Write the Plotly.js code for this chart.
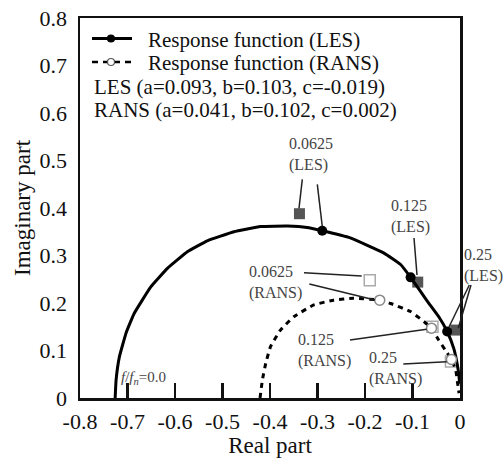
<!DOCTYPE html>
<html>
<head>
<meta charset="utf-8">
<script src="https://cdn.plot.ly/plotly-3.0.1.min.js"></script>
<style>html,body{margin:0;padding:0;background:#fff;}#chart{width:504px;height:458px;}</style>
</head>
<body>
<div id="chart"></div>
<script>
// ---- data ----
var lesRe = [-0.726, -0.724, -0.717, -0.703, -0.686, -0.651, -0.616, -0.574, -0.532, -0.476, -0.420, -0.363, -0.322, -0.290, -0.231, -0.160, -0.125, -0.104, -0.069, -0.044, -0.027, -0.013, -0.006, -0.002, -0.001];
var lesIm = [0.000, 0.038, 0.087, 0.137, 0.178, 0.234, 0.273, 0.308, 0.331, 0.350, 0.361, 0.362, 0.359, 0.352, 0.337, 0.305, 0.281, 0.254, 0.204, 0.170, 0.140, 0.104, 0.072, 0.045, 0.030];
var ransRe = [-0.421, -0.416, -0.409, -0.399, -0.378, -0.350, -0.308, -0.266, -0.224, -0.169, -0.146, -0.104, -0.076, -0.060, -0.045, -0.031, -0.018, -0.009, -0.005, -0.002];
var ransIm = [0.000, 0.038, 0.073, 0.108, 0.143, 0.171, 0.196, 0.206, 0.210, 0.206, 0.199, 0.182, 0.161, 0.147, 0.122, 0.101, 0.081, 0.059, 0.031, 0.010];
var freqLabels = ['0.0625', '0.125', '0.25'];
var lesMarkRe = [-0.290, -0.104, -0.027];
var lesMarkIm = [0.352, 0.254, 0.140];
var ransMarkRe = [-0.169, -0.060, -0.018];
var ransMarkIm = [0.206, 0.147, 0.081];
var lesSqRe = [-0.338, -0.089, -0.009];
var lesSqIm = [0.388, 0.244, 0.143];
var ransSqRe = [-0.190, -0.058, -0.019];
var ransSqIm = [0.248, 0.150, 0.077];
var xTickVals = [-0.8, -0.7, -0.6, -0.5, -0.4, -0.3, -0.2, -0.1, 0];
var xTickText = ['-0.8', '-0.7', '-0.6', '-0.5', '-0.4', '-0.3', '-0.2', '-0.1', '0'];
var yTickVals = [0, 0.1, 0.2, 0.3, 0.4, 0.5, 0.6, 0.7, 0.8];
var yTickText = ['0', '0.1', '0.2', '0.3', '0.4', '0.5', '0.6', '0.7', '0.8'];
var legendNames = ['Response function (LES)', 'Response function (RANS)'];
var paramLines = ['LES (a=0.093, b=0.103, c=-0.019)', 'RANS (a=0.041, b=0.102, c=0.002)'];
var xTitle = 'Real part';
var yTitle = 'Imaginary part';

// ---- layout helpers (pixel -> paper) ----
var L = 80, T = 18, W = 380, H = 380;
function px(x) { return (x - L) / W; }
function py(y) { return (T + H - y) / H; }
var FONT = 'Liberation Serif';

var traces = [
  {x: lesSqRe, y: lesSqIm, mode: 'markers', type: 'scatter',
   marker: {symbol: 'square', size: 11, color: '#555', line: {width: 0}}},
  {x: ransSqRe, y: ransSqIm, mode: 'markers', type: 'scatter',
   marker: {symbol: 'square-open', size: 11, color: '#aaa', line: {width: 1.5}}},
  {x: lesRe, y: lesIm, mode: 'lines', type: 'scatter',
   line: {color: '#000', width: 3, shape: 'spline', smoothing: 0.3}},
  {x: ransRe, y: ransIm, mode: 'lines', type: 'scatter',
   line: {color: '#000', width: 3, dash: '5px,5px', shape: 'spline', smoothing: 0.3}},
  {x: lesMarkRe, y: lesMarkIm, mode: 'markers', type: 'scatter',
   marker: {symbol: 'circle', size: 10, color: '#000'}},
  {x: ransMarkRe, y: ransMarkIm, mode: 'markers', type: 'scatter',
   marker: {symbol: 'circle', size: 10, color: '#fff', line: {color: '#888', width: 1.5}}}
];

function seg(x0, y0, x1, y1, opts) {
  var s = {type: 'line', xref: 'paper', yref: 'paper', x0: px(x0), y0: py(y0), x1: px(x1), y1: py(y1),
           line: {color: '#222', width: 1.5}};
  if (opts) { for (var k in opts) s[k] = opts[k]; }
  return s;
}
function dot(cx, cy, r, fill, stroke) {
  return {type: 'circle', xref: 'paper', yref: 'paper',
          x0: px(cx - r), x1: px(cx + r), y0: py(cy + r), y1: py(cy - r),
          fillcolor: fill, line: {color: stroke, width: 1.2}};
}

var shapes = [
  // leader lines
  seg(302.3, 179.3, 299, 208.3),
  seg(317.3, 184.3, 322.3, 226.7),
  seg(414, 238, 417, 275),
  seg(469.3, 285, 449, 327),
  seg(471, 285, 458.3, 328.3),
  seg(304, 272.7, 361.7, 276),
  seg(309.3, 284, 375, 300),
  seg(350, 340, 426.7, 329.3),
  seg(403.3, 364, 446.7, 361.7),
  // legend samples
  seg(92, 38.5, 132, 38.5, {line: {color: '#000', width: 3}}),
  dot(111, 38.5, 3.5, '#000', '#000'),
  seg(92, 62, 132, 62, {line: {color: '#000', width: 2.5, dash: '6px,5px'}}),
  dot(111, 62, 3.5, '#fff', '#555')
];

function lab(text, x, y, opts) {
  var a = {text: text, xref: 'paper', yref: 'paper', x: px(x), y: py(y), xanchor: 'left', yanchor: 'middle',
           align: 'left', showarrow: false, font: {family: FONT, size: 16, color: '#444'}};
  if (opts) { for (var k in opts) a[k] = opts[k]; }
  return a;
}
var annotations = [
  lab(freqLabels[0] + '<br>(LES)', 287, 154),
  lab(freqLabels[1] + '<br>(LES)', 389, 216),
  lab(freqLabels[2] + '<br>(LES)', 462, 265),
  lab(freqLabels[0] + '<br>(RANS)', 247, 282),
  lab(freqLabels[1] + '<br>(RANS)', 295.5, 350),
  lab(freqLabels[2] + '<br>(RANS)', 367, 368),
  lab('<i>f</i>/<i>f</i><sub><i>n</i></sub>=0.0', 119, 378, {font: {family: FONT, size: 15, color: '#444'}}),
  lab(legendNames[0], 146, 40, {font: {family: FONT, size: 21, color: '#111'}}),
  lab(legendNames[1], 146, 63, {font: {family: FONT, size: 21, color: '#111'}}),
  lab(paramLines[0], 92, 87, {font: {family: FONT, size: 21, color: '#111'}}),
  lab(paramLines[1], 92, 110, {font: {family: FONT, size: 21, color: '#111'}}),
  lab(yTitle, 22, 208, {xanchor: 'center', textangle: -90, font: {family: FONT, size: 23, color: '#111'}})
];

var layout = {
  width: 504, height: 458,
  margin: {l: L, r: 504 - L - W, t: T, b: 458 - T - H},
  paper_bgcolor: '#fff', plot_bgcolor: '#fff',
  showlegend: false,
  font: {family: FONT, color: '#111'},
  xaxis: {range: [-0.8, 0], tickvals: xTickVals, ticktext: xTickText,
          ticks: 'inside', ticklen: 15, tickwidth: 2.5, tickcolor: '#111', ticklabelstandoff: 2,
          showline: true, linecolor: '#111', linewidth: 2.5, mirror: true,
          showgrid: false, zeroline: false, tickfont: {family: FONT, size: 22, color: '#111'},
          title: {text: xTitle, font: {family: FONT, size: 23, color: '#111'}}},
  yaxis: {range: [0, 0.8], tickvals: yTickVals, ticktext: yTickText,
          ticks: '', ticklabelstandoff: 6, showline: true, linecolor: '#111', linewidth: 2.5, mirror: true,
          showgrid: false, zeroline: false, tickfont: {family: FONT, size: 22, color: '#111'}},
  shapes: shapes,
  annotations: annotations
};

Plotly.newPlot('chart', traces, layout, {displayModeBar: false, staticPlot: true});
</script>
</body>
</html>
